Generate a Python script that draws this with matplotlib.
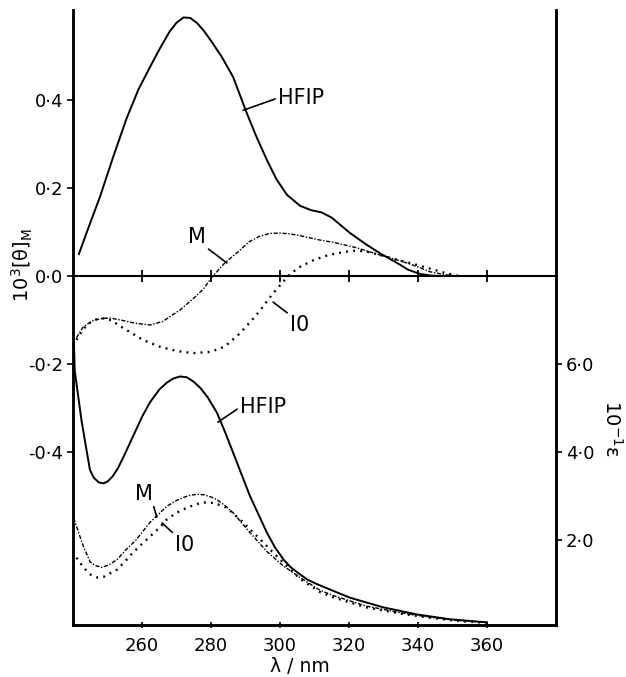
import matplotlib
matplotlib.use("Agg")
import matplotlib.pyplot as plt

# CD curves (left axis, 10^3 [theta]_M)
hfip_cd_wl = [241.7, 244, 247.8, 251.6, 255.6, 259, 262.3, 265, 268, 270, 272, 274, 276,
              278, 280, 283, 286.4, 290.4, 293, 296.2, 299, 302, 305.8, 309, 312, 315,
              320.3, 325, 329, 334.8, 337, 340.6, 344, 348]
hfip_cd = [0.05, 0.1, 0.18, 0.27, 0.36, 0.425, 0.475, 0.515, 0.556, 0.576, 0.588, 0.587,
           0.575, 0.557, 0.535, 0.50, 0.453, 0.37, 0.32, 0.264, 0.22, 0.185, 0.16, 0.15,
           0.145, 0.133, 0.098, 0.072, 0.052, 0.026, 0.015, 0.005, 0.001, 0.0]

m_cd_wl = [241, 243, 246, 248.5, 250.7, 254, 258, 262.3, 266, 271, 275, 277.7, 280.3, 284,
           288.4, 291, 294.2, 297, 300, 303, 305.8, 311.6, 315.4, 322, 329, 334.8, 338.6,
           343.5, 348, 352]
m_cd = [-0.14, -0.115, -0.1, -0.096, -0.095, -0.1, -0.107, -0.111, -0.103, -0.077, -0.05,
        -0.03, -0.002, 0.03, 0.059, 0.078, 0.091, 0.097, 0.098, 0.096, 0.092, 0.082, 0.077,
        0.065, 0.048, 0.035, 0.025, 0.01, 0.003, 0.0]

io_cd_wl = [241, 243, 245.5, 248, 251, 255, 260.3, 265, 270, 274.8, 280, 284, 288.4, 293,
            298, 302.9, 306, 309.6, 314, 319.4, 322, 325, 329, 334, 338.6, 343.5, 348, 352]
io_cd = [-0.145, -0.12, -0.102, -0.095, -0.1, -0.12, -0.145, -0.16, -0.17, -0.175, -0.172,
         -0.16, -0.13, -0.09, -0.039, 0.005, 0.022, 0.036, 0.048, 0.056, 0.058, 0.056,
         0.048, 0.037, 0.028, 0.017, 0.007, 0.0]

# absorption curves (right axis, 10^-1 epsilon)
hfip_ab_wl = [240.2, 240.5, 242.5, 244.9, 246, 247.5, 248.8, 250, 251.5, 253, 255, 257.4,
              260, 262.3, 265, 267.2, 269, 271, 273, 275, 277, 279, 281.7, 284, 286.4,
              291.3, 296.2, 298.5, 301, 303, 305.8, 308, 310.7, 315, 320.3, 330, 339.7,
              349.3, 360]
hfip_ab = [6.7, 5.85, 4.7, 3.6, 3.42, 3.31, 3.29, 3.33, 3.45, 3.63, 3.95, 4.36,
           4.8, 5.13, 5.42, 5.58, 5.67, 5.72, 5.7, 5.6, 5.45, 5.25, 4.9, 4.47, 3.99,
           3.0, 2.17, 1.84, 1.56, 1.39, 1.22, 1.1, 1.0, 0.86, 0.69, 0.47, 0.31, 0.2, 0.13]

m_ab_wl = [240.2, 241.5, 243, 245, 246.5, 248.4, 250.5, 252.8, 255.6, 258, 262.3, 265.2,
           267.2, 270, 272, 274, 276, 278, 280, 281.7, 284, 286.4, 291.3, 296.2, 301, 305.8,
           311.6, 315.4, 325, 334.8, 344, 352, 360]
m_ab = [2.5, 2.2, 1.86, 1.5, 1.42, 1.38, 1.44, 1.56, 1.8, 1.98, 2.4, 2.62,
        2.77, 2.9, 2.97, 3.02, 3.04, 3.03, 2.98, 2.92, 2.79, 2.62, 2.17, 1.74, 1.41,
        1.15, 0.86, 0.74, 0.5, 0.35, 0.24, 0.17, 0.13]

io_ab_wl = [241, 243, 245, 247, 249, 252.8, 255.6, 257.4, 262.3, 265.2, 267.2, 270, 272,
            274.8, 276.8, 278.6, 281, 284.5, 288.4, 294.2, 300, 305.8, 311.6, 315.4, 325,
            334.8, 344, 352, 360]
io_ab = [1.6, 1.38, 1.22, 1.15, 1.17, 1.33, 1.56, 1.72, 2.08, 2.29, 2.47, 2.62, 2.7,
         2.79, 2.84, 2.86, 2.84, 2.74, 2.47, 2.02, 1.56, 1.12, 0.82, 0.70, 0.47,
         0.33, 0.23, 0.16, 0.12]

x_ticks = [260, 280, 300, 320, 340, 360]
left_ticks = [0.4, 0.2, 0.0, -0.2, -0.4]
left_labels = ['0·4', '0·2', '0·0', '-0·2', '-0·4']
right_ticks = [2.0, 4.0, 6.0]
right_labels = ['2·0', '4·0', '6·0']

plt.rcParams['font.family'] = ['DejaVu Sans']
W, H = 626, 677
fig = plt.figure(figsize=(W / 100, H / 100), dpi=100)
ax = fig.add_axes([73 / W, 1 - 625 / H, (556 - 73) / W, (625 - 10) / H])

ylo, yhi = -0.793, 0.605
ax.set_xlim(240, 380)
ax.set_ylim(ylo, yhi)

solid = dict(color='black', lw=1.4, solid_joinstyle='round')
dashdot = dict(color='black', lw=1.0, ls=(0, (3, 1.2, 1, 1.2)))
dotted = dict(color='black', lw=1.7, ls=(0, (0.8, 2.2)))

ax.plot(hfip_cd_wl, hfip_cd, **solid)
ax.plot(m_cd_wl, m_cd, **dashdot)
ax.plot(io_cd_wl, io_cd, **dotted)
ax.axhline(0, color='black', lw=1.5)
ax.plot(x_ticks, [0] * len(x_ticks), '|', color='black', ms=8, mew=1.3)

ax2 = ax.twinx()
ax2.set_ylim(10 * ylo + 8, 10 * yhi + 8)
ax2.plot(hfip_ab_wl, hfip_ab, **solid)
ax2.plot(m_ab_wl, m_ab, **dashdot)
ax2.plot(io_ab_wl, io_ab, **dotted)

for a in (ax, ax2):
    a.spines['top'].set_visible(False)
    for s in ('left', 'right', 'bottom'):
        a.spines[s].set_linewidth(1.8)

ax.set_xticks(x_ticks)
ax.set_xticklabels([str(t) for t in x_ticks])
ax.set_yticks(left_ticks)
ax.set_yticklabels(left_labels)
ax.tick_params(axis='x', direction='inout', length=5, width=1.2, labelsize=13, pad=6)
ax.tick_params(axis='y', direction='out', length=4, width=1.2, labelsize=13, pad=3)
ax2.set_yticks(right_ticks)
ax2.set_yticklabels(right_labels)
ax2.tick_params(axis='y', direction='out', length=4, width=1.2, labelsize=13, pad=3)

lead = dict(arrowstyle='-', color='black', lw=1.2, shrinkA=0, shrinkB=0)
fs = 15
# upper labels (CD)
ax.annotate('HFIP', xy=(289.3, 0.377), xytext=(299.4, 0.405), fontsize=fs,
            va='center', ha='left', arrowprops=dict(lead, relpos=(0.0, 0.5)))
ax.annotate('M', xy=(284.6, 0.03), xytext=(273.3, 0.089), fontsize=fs,
            va='center', ha='left', arrowprops=dict(lead, relpos=(1.0, 0.0)))
ax.annotate('I0', xy=(298, -0.059), xytext=(302.9, -0.111), fontsize=fs,
            va='center', ha='left', arrowprops=dict(lead, relpos=(0.0, 1.0)))
# lower labels (absorption)
ax2.annotate('HFIP', xy=(282, 4.68), xytext=(288.4, 5.02), fontsize=fs,
             va='center', ha='left', arrowprops=dict(lead, relpos=(0.0, 0.5)))
ax2.annotate('M', xy=(264.3, 2.52), xytext=(258, 3.05), fontsize=fs,
             va='center', ha='left', arrowprops=dict(lead, relpos=(1.0, 0.0)))
ax2.annotate('I0', xy=(265.8, 2.39), xytext=(269.6, 1.89), fontsize=fs,
             va='center', ha='left', arrowprops=dict(lead, relpos=(0.0, 1.0)))

fig.text(22 / W, 1 - 265 / H, r'$\mathregular{10^{3}[θ]_{M}}$', rotation=90,
         ha='center', va='center', fontsize=14)
fig.text(612 / W, 1 - 428 / H, r'$\mathregular{10^{-1}ε}$', rotation=270,
         ha='center', va='center', fontsize=14)
fig.text(300 / W, 1 - 666 / H, 'λ / nm', ha='center', va='center', fontsize=13.5)

fig.savefig('out.png', dpi=100)
